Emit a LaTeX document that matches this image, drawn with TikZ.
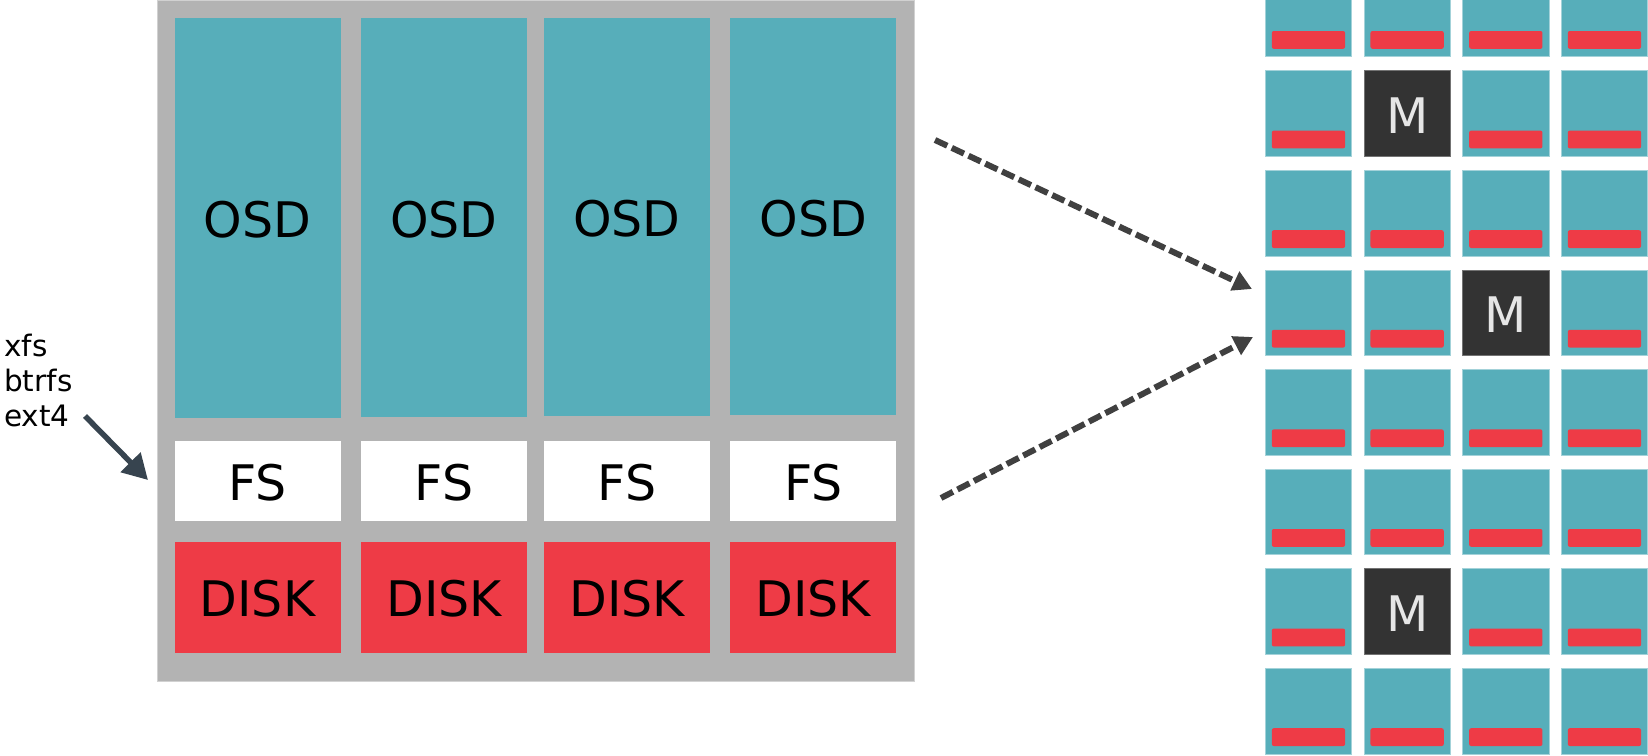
\documentclass[tikz,border=0pt]{standalone}
\usepackage{fontspec}
\setmainfont{DejaVu Sans}
\usetikzlibrary{arrows.meta}
\definecolor{cTeal}{HTML}{57AEBA}
\definecolor{cRed}{HTML}{EE3B46}
\definecolor{cGray}{HTML}{B3B3B3}
\definecolor{cDark}{HTML}{333333}
\definecolor{cMtext}{HTML}{E6E6E6}
\definecolor{cArrow}{HTML}{404040}
\definecolor{cSlate}{HTML}{37444F}
\newcommand{\lowtext}[2]{\raisebox{-#1}[\height][\depth]{#2}}
\begin{document}
\begin{tikzpicture}[x=1pt,y=-1pt,
  box/.style={rectangle, inner sep=0pt, outer sep=0pt},
  big/.style={font=\fontsize{49}{58}\selectfont},
  osdbox/.style={box, big, fill=cTeal, minimum width=166pt},
  fsbox/.style={box, big, fill=white, minimum width=166pt, minimum height=80pt},
  diskbox/.style={box, big, fill=cRed, minimum width=166pt, minimum height=111pt},
  cell/.style={box, fill=cTeal, draw=cTeal!55!white, line width=0.8pt, minimum width=86.3pt, minimum height=85.7pt},
  bar/.style={box, fill=cRed, rounded corners=2pt, minimum width=73.3pt, minimum height=17.8pt},
  mcell/.style={box, fill=cDark, draw=black!55, line width=0.8pt, minimum width=86.3pt, minimum height=85.7pt, big, text=cMtext},
  label/.style={inner sep=0pt, anchor=base west, font=\fontsize{29.5}{35}\selectfont},
  dasharrow/.style={draw=cArrow, line width=6pt, dash pattern=on 13.5pt off 5pt, -{Triangle[length=19pt,width=20pt]}},
  fsarrow/.style={draw=cSlate, line width=5.5pt, -{Triangle[length=25pt,width=27pt]}}
]
\useasboundingbox (0,0) rectangle (1648,755);
\clip (0,0) rectangle (1648,755);
% host box
\node[box, fill=cGray, draw=black!18, line width=0.8pt, minimum width=757pt, minimum height=681pt] (host) at (535.5,340.5) {};
% columns
\foreach \i/\cx/\b in {1/257.5/418, 2/444/417, 3/627/416, 4/813.25/415}{
  \pgfmathsetmacro\cy{(18+\b)/2}
  \pgfmathsetmacro\h{\b-18}
  \node[osdbox, minimum height=\h pt] (osd\i) at (\cx,\cy) {\lowtext{2pt}{OSD}};
  \node[fsbox] (fs\i) at (\cx,481) {\lowtext{2pt}{FS}};
  \node[diskbox] (disk\i) at (\cx,597.5) {\lowtext{1.3pt}{DISK}};
}
% left labels
\node[label] (lxfs) at (4,356.7) {xfs};
\node[label] (lbtrfs) at (4,391.7) {btrfs};
\node[label] (lext) at (4,426.7) {ext4};
\coordinate (fsa) at (85,416);
\coordinate (fsb) at (148,480);
\draw[fsarrow] (fsa) -- (fsb);
% grid
\foreach \r in {0,...,7}{
  \foreach \c in {0,...,3}{
    \pgfmathsetmacro\cx{1265.3+98.67*\c+43.15}
    \pgfmathsetmacro\top{-28.9+99.6*\r}
    \pgfmathsetmacro\cy{\top+42.85}
    \pgfmathsetmacro\by{\top+68.8}
    \pgfmathtruncatemacro\ism{((\r==1)&&(\c==1)) || ((\r==3)&&(\c==2)) || ((\r==6)&&(\c==1))}
    \ifnum\ism=1
      \node[mcell] (m-\r-\c) at (\cx,\cy) {\lowtext{2pt}{M}};
    \else
      \node[cell] (cell-\r-\c) at (\cx,\cy) {};
      \node[bar] (bar-\r-\c) at (\cx,\by) {};
    \fi
  }
}
% dashed arrows
\coordinate (ua) at (935,140);
\coordinate (ub) at (1252,289);
\coordinate (la) at (941,498);
\coordinate (lb) at (1253,337);
\draw[dasharrow] (ua) -- (ub);
\draw[dasharrow] (la) -- (lb);
\end{tikzpicture}
\end{document}
